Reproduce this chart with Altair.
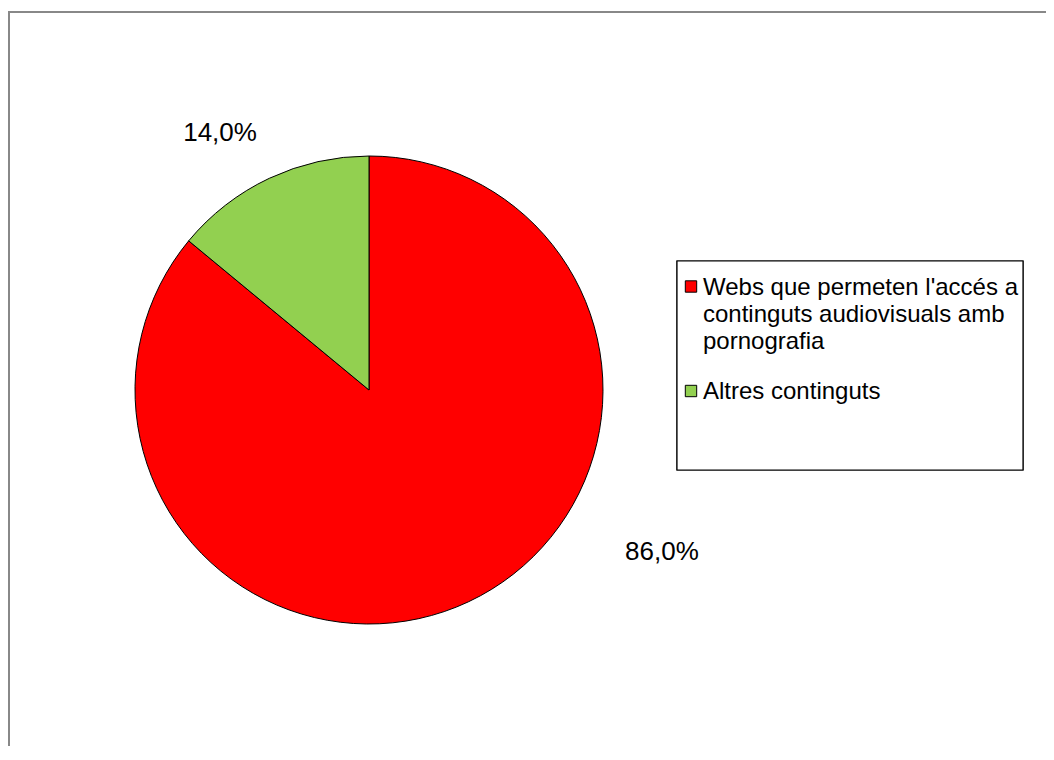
import math
import altair as alt
import pandas as pd

# ---- data ----
categories = [
    "Webs que permeten l'accés a continguts audiovisuals amb pornografia",
    "Altres continguts",
]
legend_lines = [
    "Webs que permeten l'accés a|continguts audiovisuals amb|pornografia",
    "Altres continguts",
]
values = [86.0, 14.0]
value_labels = ["86,0%", "14,0%"]
colors = ["#FF0000", "#92D050"]
order = [0, 1]

df = pd.DataFrame({
    "cat": categories,
    "value": values,
    "label": value_labels,
    "legend": legend_lines,
    "order": order,
})
total = sum(values)

# ---- layout ----
W, H = 1038, 738
CX, CY, R = 361, 382, 234
FONT = "Liberation Sans"

theta_scale = alt.Scale(domain=[0, total], range=[0, 2 * math.pi])
color = alt.Color("cat:N", scale=alt.Scale(domain=categories, range=colors), legend=None)

base = alt.Chart(df)

frame_left = base.mark_rule(color="#888888", strokeWidth=2).encode(
    x=alt.value(1), y=alt.value(4), y2=alt.value(H)
)
frame_top = base.mark_rule(color="#888888", strokeWidth=2).encode(
    x=alt.value(0), x2=alt.value(W), y=alt.value(4)
)

pie = base.mark_arc(outerRadius=R, stroke="black", strokeWidth=1).encode(
    theta=alt.Theta("value:Q", stack=True, scale=theta_scale),
    order=alt.Order("order:Q"),
    color=color,
    x=alt.value(CX),
    y=alt.value(CY),
)

lab_base = base.transform_window(
    cum="sum(value)", sort=[alt.SortField("order", order="ascending")], frame=[None, 0]
).transform_calculate(mid="datum.cum - datum.value / 2")


def label_layer(cat, dx, dy):
    return lab_base.transform_filter(alt.datum.cat == cat).mark_text(
        radius=270, align="center", baseline="middle", fontSize=26,
        font=FONT, color="black", dx=dx, dy=dy,
    ).encode(
        theta=alt.Theta("mid:Q", stack=False, scale=theta_scale),
        text="label:N",
        x=alt.value(CX),
        y=alt.value(CY),
    )


lab_big = label_layer(categories[0], 178, -82)
lab_small = label_layer(categories[1], -34, -13)

legend_box = base.mark_rect(fill="white", stroke="black", strokeWidth=1.2).encode(
    x=alt.value(669), x2=alt.value(1015), y=alt.value(253), y2=alt.value(462)
)

leg_y = alt.Y(
    "cat:N",
    scale=alt.Scale(type="point", domain=categories, range=[278.5, 383], padding=0),
    axis=None,
)

leg_sq = base.mark_square(size=130, stroke="black", strokeWidth=1, opacity=1, filled=True).encode(
    x=alt.value(683), y=leg_y, color=color
)

leg_txt = base.mark_text(
    align="left", baseline="alphabetic", dy=8, lineBreak="|", lineHeight=27,
    fontSize=24, font=FONT, color="black",
).encode(x=alt.value(695), y=leg_y, text="legend:N")

chart = alt.layer(
    frame_left, frame_top, pie, lab_big, lab_small, legend_box, leg_sq, leg_txt
).properties(
    width=W, height=H, padding=0, autosize=alt.AutoSizeParams(type="none"), background="white"
).configure_view(stroke=None)

chart.save("out.html", embed_options={"renderer": "svg", "actions": False})
